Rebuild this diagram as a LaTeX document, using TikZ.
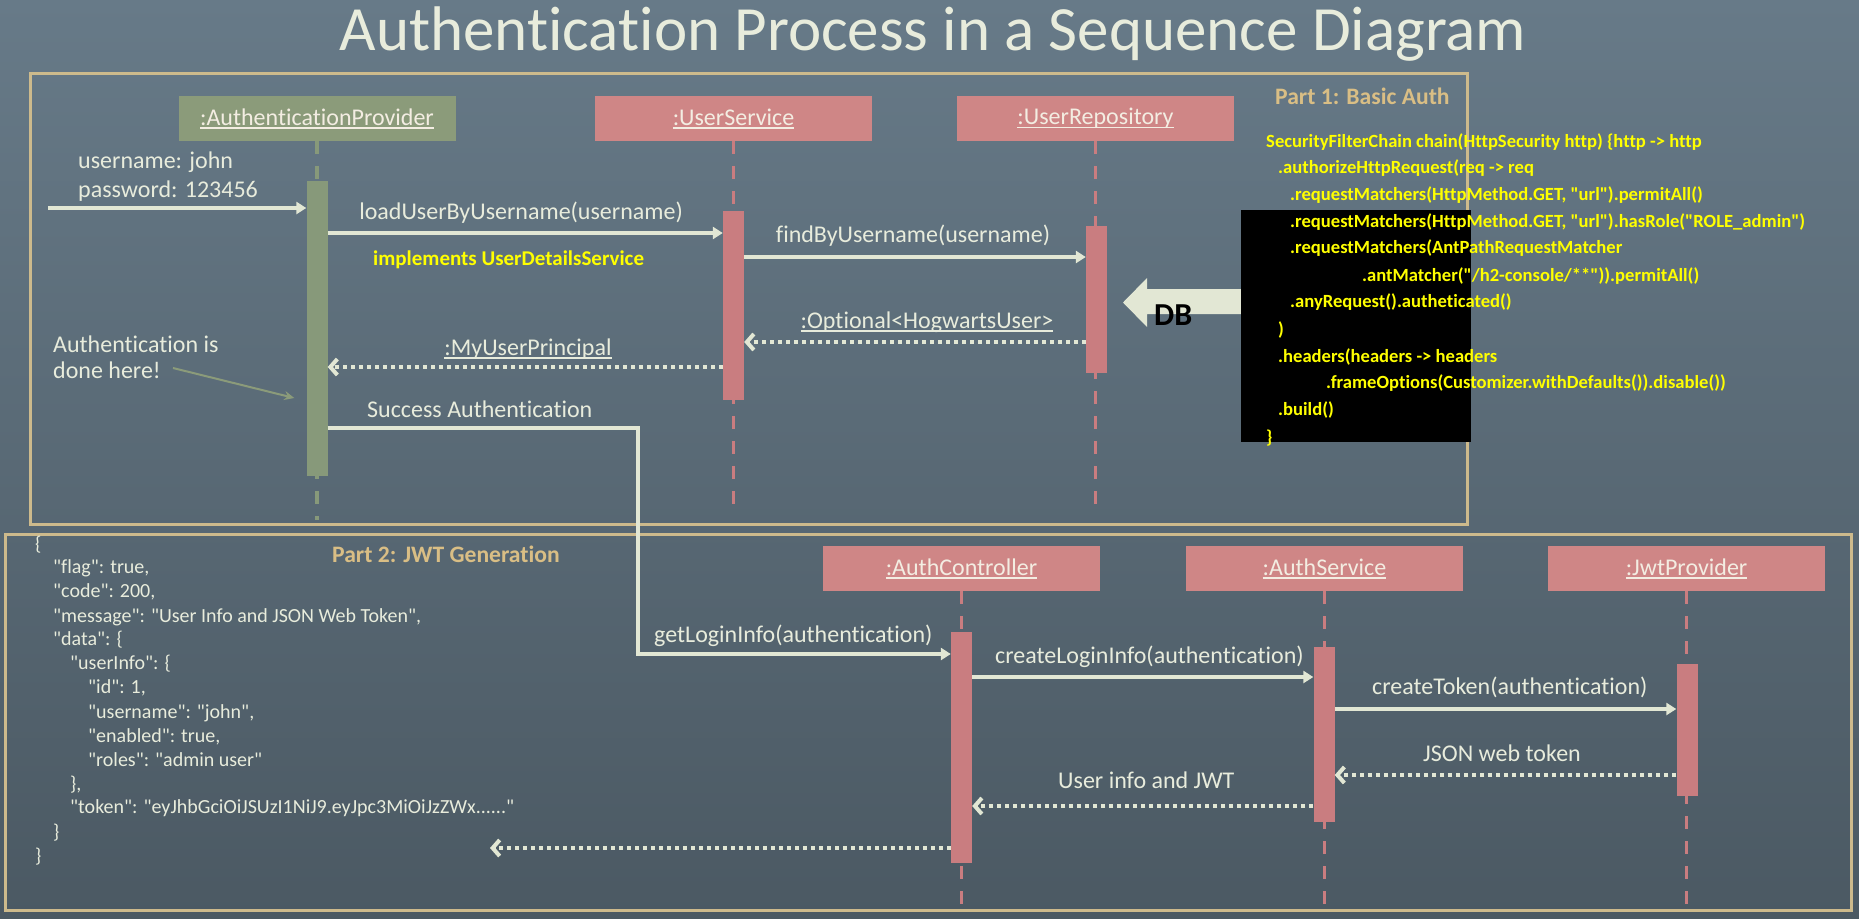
\documentclass[tikz,border=0pt]{standalone}
\usepackage{fontspec}
\setmainfont{Carlito}[Ligatures={TeXOff,NoCommon}]
\usetikzlibrary{arrows.meta}

\definecolor{bgtop}{HTML}{677A88}
\definecolor{bgbot}{HTML}{4B5963}
\definecolor{cText}{HTML}{E8ECDC}
\definecolor{cArrow}{HTML}{E2E7D4}
\definecolor{cHeadText}{HTML}{F3EDE2}
\definecolor{cPink}{HTML}{CF8686}
\definecolor{cPinkBar}{HTML}{C97D80}
\definecolor{cGreen}{HTML}{8B9B7A}
\definecolor{cGreenBar}{HTML}{87997A}
\definecolor{cFrame}{HTML}{CDBA8C}
\definecolor{cPart}{HTML}{D9BE85}
\definecolor{cYellow}{HTML}{FFFF00}

% underline for object names
\newcommand{\ulbox}[1]{\setbox0\hbox{#1}\rlap{\rule[-3.5pt]{\wd0}{1.6pt}}\box0}

\begin{document}
\begin{tikzpicture}[
    x=1pt, y=-1pt, % pixel-like coordinates, y grows downwards
    lbl/.style={inner sep=0pt, text=cText, font=\fontsize{24}{28}\selectfont},
    json/.style={inner sep=0pt, text=cText, font=\fontsize{20}{24}\selectfont},
    code/.style={inner sep=0pt, text=cYellow, font=\fontsize{18.6}{22}\selectfont\bfseries},
    part/.style={inner sep=0pt, text=cPart, font=\fontsize{23.6}{27}\selectfont\bfseries},
    head/.style={minimum width=277pt, minimum height=45pt, inner sep=0pt, text=cHeadText, font=\fontsize{24}{28}\selectfont},
    pinkhead/.style={head, fill=cPink},
    greenhead/.style={head, fill=cGreen},
    bar/.style={minimum width=21pt, inner sep=0pt},
    pinkbar/.style={bar, fill=cPinkBar},
    greenbar/.style={bar, fill=cGreenBar},
    life/.style={line width=3.5pt, dash pattern=on 13pt off 12pt},
    call/.style={draw=cArrow, line width=3.5pt, -{Triangle[length=10pt,width=12pt]}},
    reply/.style={draw=cArrow, line width=4pt, dash pattern=on 4pt off 4pt, -{Straight Barb[length=7pt,width=16pt]}},
    frame/.style={draw=cFrame, line width=3pt}
]
    \useasboundingbox (0,0) rectangle (1859,918);
    \shade[top color=bgtop, bottom color=bgbot] (0,0) rectangle (1859,918);

    % title and frames
    \node[inner sep=0pt, anchor=base, text=cText, font=\fontsize{63}{70}\selectfont] (title) at (933,50) {Authentication Process in a Sequence Diagram};
    \draw[frame] (30,73) rectangle (1467,524);
    \draw[frame] (5,534) rectangle (1851,910);
    \node[part, anchor=base west] (part1) at (1275,104) {Part 1: Basic Auth};
    \node[part, anchor=base west] (part2) at (332,562) {Part 2: JWT Generation};

    % 1. lifeline heads
    \node[greenhead] (ap) at (317,118.5) {\ulbox{:AuthenticationProvider}};
    \node[pinkhead] (us) at (733.5,118.5) {\ulbox{:UserService}};
    \node[pinkhead] (ur) at (1095.5,118.5) {\ulbox{:UserRepository}};
    \node[pinkhead] (ac) at (961.5,568.5) {\ulbox{:AuthController}};
    \node[pinkhead] (as) at (1324.5,568.5) {\ulbox{:AuthService}};
    \node[pinkhead] (jp) at (1686.5,568.5) {\ulbox{:JwtProvider}};

    % 2. dashed lifelines
    \draw[life, cGreenBar] (ap.south) -- ++(0,379);
    \foreach \obj/\len in {us/372, ur/372, ac/316, as/316, jp/316}
        \draw[life, cPinkBar] (\obj.south) -- ++(0,\len);

    % 3. activation bars
    \node[greenbar, minimum height=295pt] (apBar) at (317,328.5) {};
    \node[pinkbar, minimum height=189pt] (usBar) at (733.5,305.5) {};
    \node[pinkbar, minimum height=147pt] (urBar) at (1096.5,299.5) {};
    \node[pinkbar, minimum height=231pt] (acBar) at (961.5,747.5) {};
    \node[pinkbar, minimum height=175pt] (asBar) at (1324,734.5) {};
    \node[pinkbar, minimum height=132pt] (jpBar) at (1687,730) {};

    % 4. part 1 messages
    \coordinate (client) at (48,208);
    \draw[call] (client) -- (apBar.west |- client);
    \node[lbl, anchor=base west] (user) at (78,168) {username: john};
    \node[lbl, anchor=base west] (pass) at (78,197) {password: 123456};

    \draw[call] (apBar.east |- 0,233) -- (usBar.west |- 0,233);
    \node[lbl, anchor=base] (load) at (521,219) {loadUserByUsername(username)};
    \node[inner sep=0pt, anchor=base west, text=cYellow, font=\fontsize{21}{25}\selectfont\bfseries] (impl) at (373,265) {implements UserDetailsService};

    \draw[call] (usBar.east |- 0,257) -- (urBar.west |- 0,257);
    \node[lbl, anchor=base] (find) at (913,242) {findByUsername(username)};

    \draw[reply] (urBar.west |- 0,342) -- (usBar.east |- 0,342);
    \node[lbl, anchor=base] (opt) at (927,328) {\ulbox{:Optional<HogwartsUser>}};

    \draw[reply] (usBar.west |- 0,367) -- (apBar.east |- 0,367);
    \node[lbl, anchor=base] (princ) at (528,355) {\ulbox{:MyUserPrincipal}};

    \node[lbl, anchor=base west] (note1) at (53,352) {Authentication is};
    \node[lbl, anchor=base west] (note2) at (53,378) {done here!};
    \draw[cGreen, line width=2pt, -{Stealth[length=10pt,width=9pt]}]
        ([shift={(12,-10)}]note2.base east) -- ([xshift=-12pt]apBar.west |- 0,398);

    \node[lbl, anchor=base west] (success) at (367,417) {Success Authentication};
    \draw[call, line join=miter] (apBar.east |- 0,428) -| (638,654) -- (acBar.west |- 0,654);

    % 5. part 2 messages
    \node[lbl, anchor=base west] (getinfo) at (654,642) {getLoginInfo(authentication)};

    \draw[call] (acBar.east |- 0,677) -- (asBar.west |- 0,677);
    \node[lbl, anchor=base west] (create) at (995,663) {createLoginInfo(authentication)};

    \draw[call] (asBar.east |- 0,709) -- (jpBar.west |- 0,709);
    \node[lbl, anchor=base west] (token) at (1372,694) {createToken(authentication)};

    \draw[reply] (jpBar.west |- 0,775) -- (asBar.east |- 0,775);
    \node[lbl, anchor=base west] (jwt) at (1423,761) {JSON web token};

    \draw[reply] (asBar.west |- 0,806) -- (acBar.east |- 0,806);
    \node[lbl, anchor=base west] (info) at (1058,788) {User info and JWT};

    \coordinate (caller) at (490,848);
    \draw[reply] (acBar.west |- caller) -- (caller);

    % 6. response body
    \foreach \x/\y/\t [count=\i] in {
        35/550/{\{},
        53/573/{"flag": true,},
        53/597/{"code": 200,},
        53/622/{"message": "User Info and JSON Web Token",},
        53/645/{"data": \{},
        70/669/{"userInfo": \{},
        88/693/{"id": 1,},
        88/718/{"username": "john",},
        88/742/{"enabled": true,},
        88/766/{"roles": "admin user"},
        70/790/{\},},
        70/813/{"token": "eyJhbGciOiJSUzI1NiJ9.eyJpc3MiOiJzZWx......"},
        53/838/{\}},
        35/862/{\}}}
        \node[json, anchor=base west] (json\i) at (\x,\y) {\t};

    % 7. DB arrow and security config
    \fill[cArrow] (1241,289) -- (1147,289) -- (1147,278) -- (1123,302.5) -- (1147,327) -- (1147,314) -- (1241,314) -- cycle;
    \node[inner sep=0pt, anchor=base west, text=black, font=\fontsize{32}{36}\selectfont\bfseries] (db) at (1154,325) {DB};
    \fill[black] (1241,210) rectangle (1471,442);
    \foreach \x/\y/\t [count=\i] in {
        1266/147/{SecurityFilterChain chain(HttpSecurity http) \{http -> http},
        1278/173/{.authorizeHttpRequest(req -> req},
        1290/200/{.requestMatchers(HttpMethod.GET, "url").permitAll()},
        1290/227/{.requestMatchers(HttpMethod.GET, "url").hasRole("ROLE\_admin")},
        1290/253/{.requestMatchers(AntPathRequestMatcher},
        1362/281/{.antMatcher("/h2-console/**")).permitAll()},
        1290/307/{.anyRequest().autheticated()},
        1278/335/{)},
        1278/362/{.headers(headers -> headers},
        1326/388/{.frameOptions(Customizer.withDefaults()).disable())},
        1278/415/{.build()},
        1266/443/{\}}}
        \node[code, anchor=base west] (cfg\i) at (\x,\y) {\t};
\end{tikzpicture}
\end{document}
